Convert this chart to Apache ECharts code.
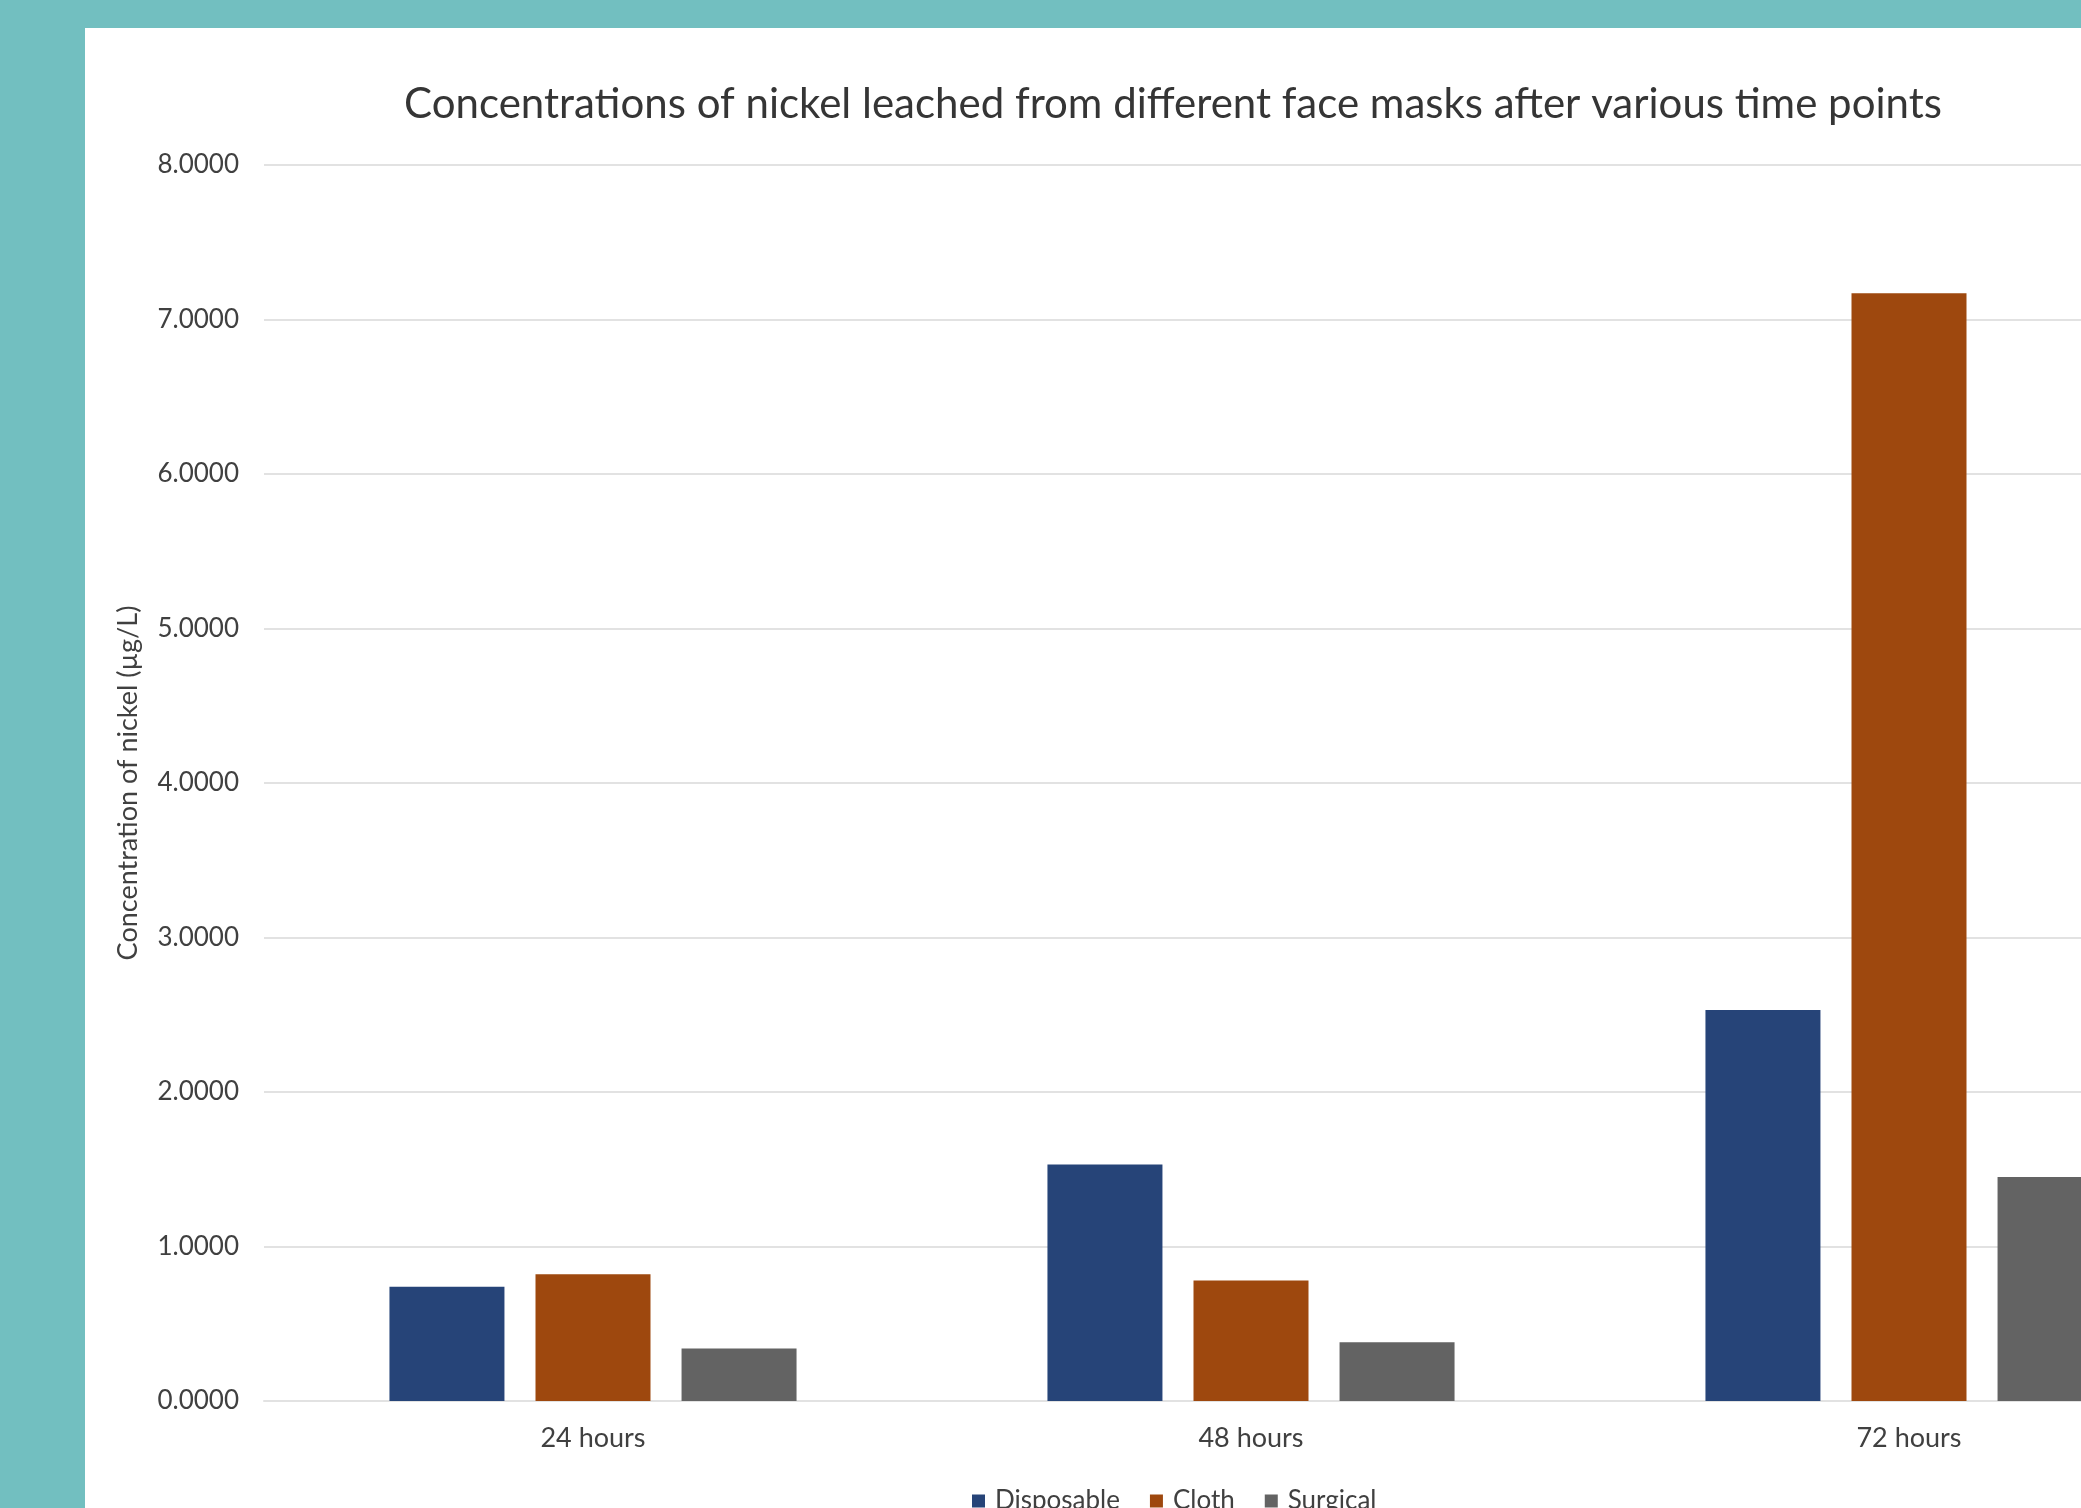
<!DOCTYPE html>
<html>
<head>
<meta charset="utf-8">
<script src="https://cdn.jsdelivr.net/npm/echarts@6/dist/echarts.min.js"></script>
<style>
  html, body { margin: 0; padding: 0; background: #72bfc0; overflow: hidden; }
  /* the source chart is cropped on the right, so draw it wider than the window */
  #chart { width: 2400px; height: 1508px; }
</style>
</head>
<body>
<div id="chart"></div>
<script>
// data
const timePoints = ['24 hours', '48 hours', '72 hours'];
const disposable = [0.74, 1.53, 2.53];
const cloth = [0.82, 0.78, 7.17];
const surgical = [0.34, 0.38, 1.45];
const yTicks = { min: 0, max: 8, interval: 1 };

const chart = echarts.init(document.getElementById('chart'));
const font = 'Lato, "Open Sans", sans-serif';
const gridColor = '#e2e2e2';

const barStyle = (name, data, color) => ({
  name: name,
  type: 'bar',
  data: data,
  barWidth: 115,
  barGap: '27%',
  itemStyle: { color: color },
  emphasis: { disabled: true }
});

const option = {
  backgroundColor: '#72bfc0',
  animation: false,
  textStyle: { fontFamily: font },
  // white card the chart sits on
  graphic: [{
    type: 'rect',
    z: -10,
    shape: { x: 85, y: 28, width: 2400, height: 1600 },
    style: { fill: '#ffffff' }
  }],
  title: {
    text: 'Concentrations of nickel leached from different face masks after various time points',
    left: 1168,
    textAlign: 'center',
    top: 78,
    textStyle: { fontFamily: font, fontSize: 42, fontWeight: 'normal', color: '#353535' }
  },
  legend: {
    left: 967,
    top: 1483,
    itemWidth: 13,
    itemHeight: 13,
    itemGap: 30,
    icon: 'rect',
    textStyle: { fontFamily: font, fontSize: 26, color: '#404040', padding: [0, 0, 0, 5] }
  },
  grid: { left: 264, top: 165, width: 1974, height: 1236, containLabel: false },
  xAxis: {
    type: 'category',
    data: timePoints,
    axisTick: { show: false },
    axisLine: { lineStyle: { color: gridColor, width: 2 } },
    axisLabel: { fontFamily: font, fontSize: 27, color: '#404040', margin: 24 }
  },
  yAxis: {
    type: 'value',
    min: yTicks.min,
    max: yTicks.max,
    interval: yTicks.interval,
    name: 'Concentration of nickel (µg/L)',
    nameLocation: 'middle',
    nameGap: 122,
    nameTextStyle: { fontFamily: font, fontSize: 27, color: '#404040' },
    axisLine: { show: false },
    axisTick: { show: false },
    splitLine: { lineStyle: { color: gridColor, width: 2 } },
    axisLabel: {
      fontFamily: font, fontSize: 26, color: '#404040', margin: 25,
      formatter: v => v.toFixed(4)
    }
  },
  series: [
    barStyle('Disposable', disposable, '#264478'),
    barStyle('Cloth', cloth, '#9e480e'),
    barStyle('Surgical', surgical, '#636363')
  ]
};

chart.setOption(option);
</script>
</body>
</html>
